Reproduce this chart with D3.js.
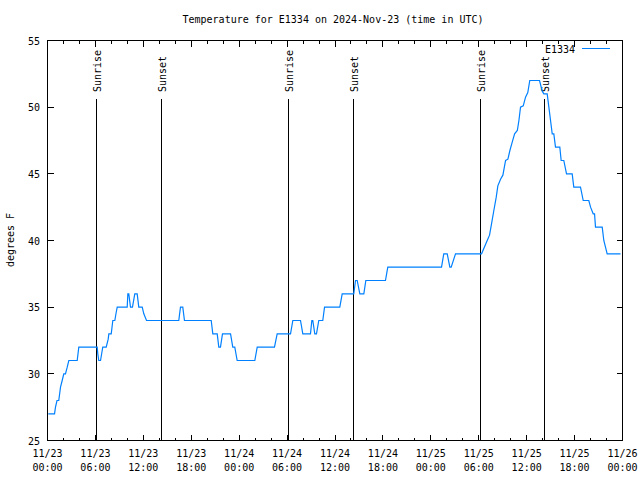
<!DOCTYPE html>
<html>
<head>
<meta charset="utf-8">
<script src="https://cdn.jsdelivr.net/npm/d3@7"></script>
<style>
  html, body { margin: 0; padding: 0; background: #fff; }
  svg { display: block; }
  text { font-family: "DejaVu Sans Mono", monospace; font-size: 10px; fill: #000; }
</style>
</head>
<body>
<svg id="chart" width="640" height="480"></svg>
<script>
// ---- data (hours since 2024-11-23 00:00 UTC, degrees F) ----
const hours = [0.10,0.88,1.00,1.19,1.41,1.63,1.84,2.04,2.25,2.47,2.67,3.72,3.92,6.22,6.30,6.42,6.64,6.85,6.92,7.35,
  7.60,7.68,7.98,8.18,8.43,8.60,8.73,9.98,10.06,10.18,10.39,10.64,10.93,11.23,11.43,11.86,12.06,12.40,16.44,16.65,
  16.94,17.15,20.50,20.70,21.25,21.45,21.66,21.91,22.92,23.20,23.45,23.75,25.96,26.26,28.42,28.76,30.43,30.72,31.68,31.97,
  32.93,33.10,33.22,33.47,33.68,33.97,34.47,34.69,36.60,36.90,38.35,38.57,38.78,39.11,39.61,39.86,42.32,42.61,49.34,49.62,
  50.05,50.38,50.55,51.09,54.35,55.06,55.35,55.60,55.89,56.19,56.39,56.73,57.02,57.36,57.65,57.90,58.20,58.49,58.83,59.03,
  59.23,59.57,59.86,60.14,60.39,61.61,61.95,62.15,62.57,62.78,62.99,63.20,63.40,63.61,64.15,64.32,64.65,64.99,65.70,65.90,
  66.74,67.08,67.78,68.00,68.33,68.50,68.62,69.46,69.66,69.87,70.08,71.75];
const temps = [27,27,27.5,28,28,29,29.5,30,30,30.5,31,31,32,32,31.5,31,31,31.75,32,32,
  32.6,33,33,34,34,34.6,35,35,36,36,35,35,36,36,35,35,34.5,34,34,35,
  35,34,34,33,33,32,32,33,33,32,32,31,31,32,32,33,33,34,34,33,
  33,34,34,33,33,34,34,35,35,36,36,37,37,36,36,37,37,38,38,39,
  39,38,38,39,39,40,40.4,41.25,42.25,43.25,44.1,44.6,44.9,46,46.1,46.75,47.4,48,48.25,49,
  50,50.1,50.75,51.1,52,52,51.2,51,51,50,49,48,48,47,47,46,46,45,45,44,
  44,43,43,42.5,42,42,41,41,40,39.5,39,39];
const sunriseHours = [6.18, 30.20, 54.22];
const sunsetHours = [14.28, 38.30, 62.22];
const yTicks = [25, 30, 35, 40, 45, 50, 55];
const seriesName = "E1334";
const titleText = "Temperature for E1334 on 2024-Nov-23 (time in UTC)";
const yLabel = "degrees F";

const t0 = Date.UTC(2024, 10, 23, 0, 0);
const toDate = h => new Date(t0 + h * 3600e3);
const data = hours.map((h, i) => ({ t: toDate(h), v: temps[i] }));

const svg = d3.select("#chart");
const L = 47.5, R = 622.5, T = 40.5, B = 440.5;

const x = d3.scaleUtc().domain([toDate(0), toDate(72)]).range([L, R]);
const y = d3.scaleLinear().domain([25, 55]).range([B, T]);

// title
svg.append("text").attr("x", 333).attr("y", 23).attr("text-anchor", "middle").text(titleText);

// frame
svg.append("rect").attr("x", L).attr("y", T).attr("width", R - L).attr("height", B - T)
  .attr("fill", "none").attr("stroke", "#000").attr("stroke-width", 1);

// x ticks
const majorX = d3.utcHour.every(6).range(toDate(0), toDate(72.01));
const minorX = d3.utcHour.every(2).range(toDate(0), toDate(72.01));
const tickG = svg.append("g").attr("stroke", "#000").attr("stroke-width", 1).attr("shape-rendering", "crispEdges");
minorX.forEach(d => {
  const px = Math.round(x(d) - 0.5) + 0.5;
  tickG.append("line").attr("x1", px).attr("x2", px).attr("y1", B).attr("y2", B - 3);
  tickG.append("line").attr("x1", px).attr("x2", px).attr("y1", T).attr("y2", T + 3);
});
majorX.forEach(d => {
  const px = Math.round(x(d) - 0.5) + 0.5;
  tickG.append("line").attr("x1", px).attr("x2", px).attr("y1", B).attr("y2", B - 6);
  tickG.append("line").attr("x1", px).attr("x2", px).attr("y1", T).attr("y2", T + 6);
});
const fmtD = d3.utcFormat("%m/%d"), fmtT = d3.utcFormat("%H:%M");
majorX.forEach(d => {
  svg.append("text").attr("x", x(d)).attr("y", 457).attr("text-anchor", "middle").text(fmtD(d));
  svg.append("text").attr("x", x(d)).attr("y", 471).attr("text-anchor", "middle").text(fmtT(d));
});

// y ticks
yTicks.forEach(v => {
  const py = Math.round(y(v) - 0.5) + 0.5;
  tickG.append("line").attr("x1", L).attr("x2", L + 6).attr("y1", py).attr("y2", py);
  tickG.append("line").attr("x1", R).attr("x2", R - 6).attr("y1", py).attr("y2", py);
  svg.append("text").attr("x", 40).attr("y", y(v) + 4).attr("text-anchor", "end").text(v);
});

// y label
svg.append("text").attr("transform", "translate(14,240) rotate(-90)").attr("text-anchor", "middle").text(yLabel);

// sunrise / sunset lines
const evG = svg.append("g");
function eventLine(h, label) {
  const px = Math.round(x(toDate(h)) - 0.5) + 0.5;
  evG.append("line").attr("x1", px).attr("x2", px).attr("y1", 99).attr("y2", B)
    .attr("stroke", "#000").attr("stroke-width", 1).attr("shape-rendering", "crispEdges");
  evG.append("text").attr("transform", `translate(${px + 4},92) rotate(-90)`)
    .attr("text-anchor", "start").text(label);
}
sunriseHours.forEach(h => eventLine(h, "Sunrise"));
sunsetHours.forEach(h => eventLine(h, "Sunset"));

// data line
const line = d3.line().x(d => x(d.t)).y(d => y(d.v));
svg.append("path").datum(data).attr("d", line)
  .attr("fill", "none").attr("stroke", "#0080ff").attr("stroke-width", 1.2);

// legend
svg.append("text").attr("x", 575).attr("y", 53).attr("text-anchor", "end").text(seriesName);
svg.append("line").attr("x1", 582).attr("x2", 610).attr("y1", 48.5).attr("y2", 48.5)
  .attr("stroke", "#0080ff").attr("stroke-width", 1);
</script>
</body>
</html>
